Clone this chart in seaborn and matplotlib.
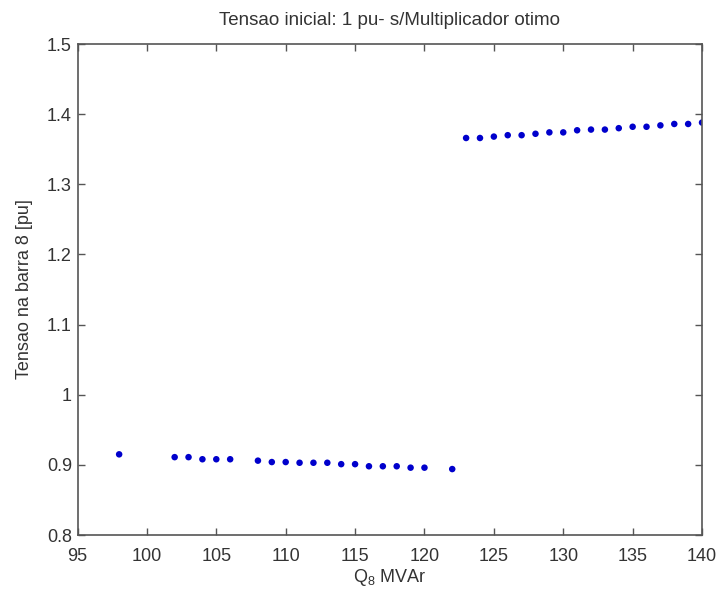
import matplotlib
matplotlib.use("Agg")
import matplotlib.pyplot as plt
import seaborn as sns
import pandas as pd

# Data
q_low = [98, 102, 103, 104, 105, 106, 108, 109, 110, 111, 112, 113, 114, 115,
         116, 117, 118, 119, 120, 122]
v_low = [0.915, 0.911, 0.911, 0.908, 0.908, 0.908, 0.906, 0.904, 0.904, 0.903,
         0.903, 0.903, 0.901, 0.901, 0.898, 0.898, 0.898, 0.896, 0.896, 0.894]
q_high = list(range(123, 141))
v_high = [1.366, 1.366, 1.368, 1.370, 1.370, 1.372, 1.374, 1.374, 1.377, 1.378,
          1.378, 1.380, 1.382, 1.382, 1.384, 1.386, 1.386, 1.388]

x_ticks = [95, 100, 105, 110, 115, 120, 125, 130, 135, 140]
y_ticks = [0.8, 0.9, 1.0, 1.1, 1.2, 1.3, 1.4, 1.5]
y_tick_labels = ["0.8", "0.9", "1", "1.1", "1.2", "1.3", "1.4", "1.5"]

title = "Tensao inicial: 1 pu- s/Multiplicador otimo"
xlabel = "Q$_{\\rm 8}$ MVAr"
ylabel = "Tensao na barra 8 [pu]"

df = pd.DataFrame({"Q": q_low + q_high, "V": v_low + v_high})

sns.set_style("white")
plt.rcParams["font.family"] = ["Liberation Sans", "DejaVu Sans"]
plt.rcParams["mathtext.fontset"] = "custom"
plt.rcParams["mathtext.rm"] = "Liberation Sans"
plt.rcParams["mathtext.it"] = "Liberation Sans:italic"

text_color = "#333333"
fig = plt.figure(figsize=(7.19, 5.93), dpi=100)
ax = fig.add_axes([0.1078, 0.0978, 0.8686, 0.8280])

sns.scatterplot(data=df, x="Q", y="V", ax=ax, color="#0000cc",
                s=22, marker="o", edgecolor="none", legend=False)

ax.set_xlim(95, 140)
ax.set_ylim(0.8, 1.5)
ax.set_xticks(x_ticks)
ax.set_xticklabels([str(t) for t in x_ticks])
ax.set_yticks(y_ticks)
ax.set_yticklabels(y_tick_labels)

ax.tick_params(direction="in", length=5, width=1, colors="#555555",
               labelcolor=text_color, labelsize=13,
               top=True, right=True, bottom=True, left=True)
ax.tick_params(axis="x", pad=9)
ax.tick_params(axis="y", pad=4)
for sp in ax.spines.values():
    sp.set_visible(True)
    sp.set_color("#555555")
    sp.set_linewidth(1.2)

ax.set_title(title, fontsize=13.5, color=text_color, pad=14)
ax.set_xlabel(xlabel, fontsize=13, color=text_color, labelpad=2)
ax.set_ylabel(ylabel, fontsize=13, color=text_color, labelpad=10)

fig.savefig("out.png", dpi=100)
